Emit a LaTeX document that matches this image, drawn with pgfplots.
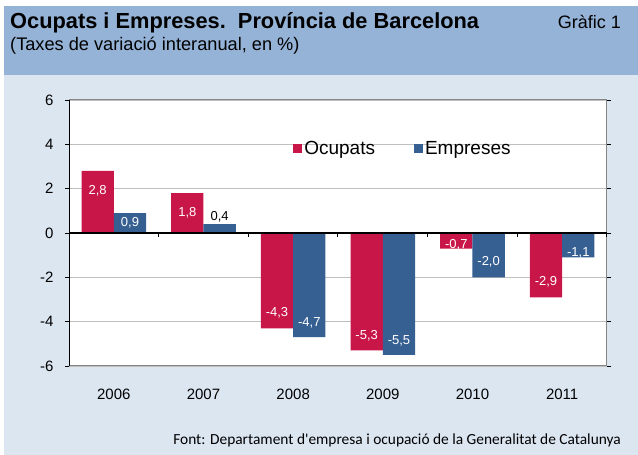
\documentclass[border=0pt]{standalone}
\usepackage{pgfplots}
\pgfplotsset{compat=1.18}
\usepackage{pgfplotstable}
\usepackage{fontspec}
\setmainfont{Liberation Sans}
\newfontfamily\footfont{Carlito}
\definecolor{ocred}{RGB}{200,22,72}
\definecolor{empblue}{RGB}{55,96,146}
\definecolor{headbg}{RGB}{149,179,215}
\definecolor{panelbg}{RGB}{220,230,241}
\definecolor{gridc}{RGB}{191,191,191}
\definecolor{boxc}{RGB}{134,134,134}

\pgfplotstableread{
x y off w
0 2.8 -20 100
1 1.8 -20 100
2 -4.3 16 100
3 -5.3 15 100
4 -0.7 4 100
5 -2.9 15 100
}\ocupats
\pgfplotstableread{
x y off w
0 0.9 -10 100
1 0.4 7 0
2 -4.7 14 100
3 -5.5 14 100
4 -2.0 16 100
5 -1.1 5 100
}\empreses

\pgfplotsset{
  sqlegend/.style={legend image code/.code={\fill[##1] (0pt,-4.5pt) rectangle (9pt,4.5pt);}},
  barlabels/.style={
    nodes near coords={\pgfmathprintnumber[fixed,fixed zerofill,precision=1,use comma,assume math mode=true]{\pgfplotspointmeta}},
    point meta=y,
    visualization depends on={\thisrow{off} \as \lbloff},
    visualization depends on={\thisrow{w} \as \lblw},
    every node near coord/.append style={anchor=center, yshift=\lbloff pt, text=white!\lblw!black, font=\fontsize{13}{13}\selectfont, inner sep=0pt},
  },
}

\begin{document}
\begin{tikzpicture}
\useasboundingbox (0,0) rectangle (638pt,455pt);
\fill[panelbg] (4pt,0) rectangle (638pt,380pt);
\fill[headbg] (4pt,380pt) rectangle (638pt,449pt);
\node[anchor=base west, font=\bfseries\fontsize{21.8}{24}\selectfont, inner sep=0pt] at (10pt,426pt) {Ocupats i Empreses.\ \ Província de Barcelona};
\node[anchor=base west, font=\fontsize{18.2}{20}\selectfont, inner sep=0pt] at (10pt,404pt) {(Taxes de variació interanual, en \%)};
\node[anchor=base east, font=\fontsize{18}{20}\selectfont, inner sep=0pt] at (621pt,426pt) {Gràfic 1};
\node[anchor=base east, font=\footfont\fontsize{15.4}{17}\selectfont, inner sep=0pt] at (621pt,10pt) {Font: Departament d'empresa i ocupació de la Generalitat de Catalunya};
\begin{axis}[
  at={(69pt,89pt)}, anchor=south west,
  scale only axis, width=538pt, height=266pt,
  xmin=-0.5, xmax=5.5, ymin=-6, ymax=6,
  ytick={-6,-4,...,6},
  xtick={0,...,5}, xticklabels={2006,2007,2008,2009,2010,2011},
  x tick style={draw=none},
  tick align=outside, major tick length=4pt,
  y tick style={black, line width=0.8pt},
  ymajorgrids, grid style={gridc, line width=0.8pt},
  axis line style={boxc, line width=1pt},
  axis background/.style={fill=white},
  ybar=0pt, bar width=0.36,
  /pgf/number format/assume math mode=true,
  ticklabel style={font=\fontsize{15}{16}\selectfont},
  xticklabel style={yshift=-15pt},
  yticklabel style={xshift=-8pt},
  legend style={at={(rel axis cs:0.416,0.816)}, anchor=west, draw=none, fill=none,
    legend columns=2, inner sep=0pt, outer sep=0pt,
    font=\fontsize{19}{20}\selectfont,
    nodes={inner sep=2.5pt},
    /tikz/every even column/.append style={column sep=36pt}},
]
\addplot[fill=ocred, draw=none, sqlegend, barlabels] table[x=x,y=y] {\ocupats};
\addlegendentry{Ocupats}
\addplot[fill=empblue, draw=none, sqlegend, barlabels] table[x=x,y=y] {\empreses};
\addlegendentry{Empreses}
\draw[black, line width=1.5pt] (rel axis cs:0,0) -- (rel axis cs:0,1);
\draw[black, line width=1.5pt] (axis cs:-0.5,0) -- (axis cs:5.5,0);
\pgfplotsinvokeforeach{0.5,1.5,2.5,3.5,4.5,5.5}{\draw[black, line width=1pt] (axis cs:#1,0) -- ([yshift=-4pt]axis cs:#1,0);}
\end{axis}
\end{tikzpicture}
\end{document}
